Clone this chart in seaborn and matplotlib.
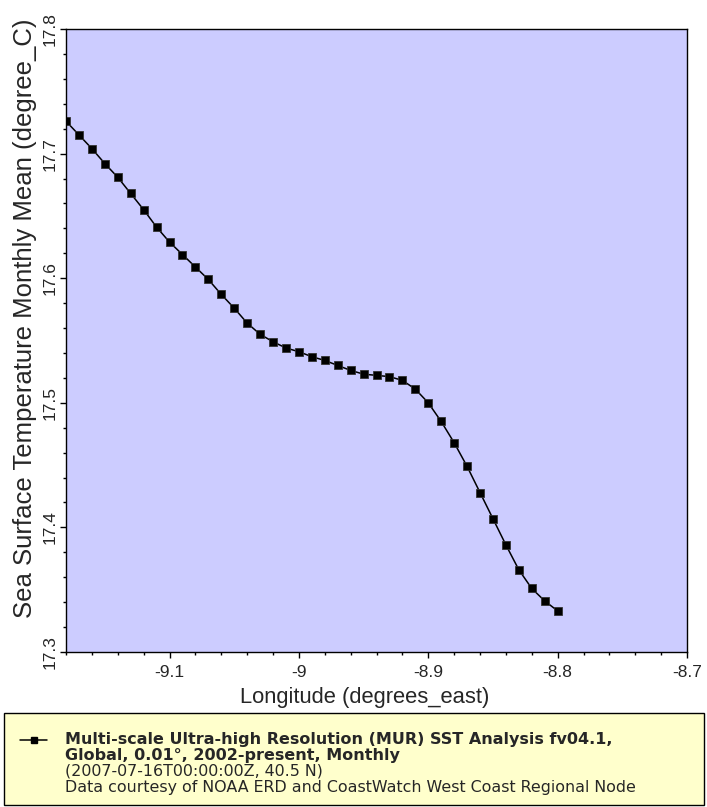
import matplotlib
matplotlib.use("Agg")
import matplotlib.pyplot as plt
import seaborn as sns
import pandas as pd
from matplotlib.lines import Line2D
from matplotlib.patches import Rectangle
from matplotlib.ticker import MultipleLocator

longitude = [-9.18, -9.17, -9.16, -9.15, -9.14, -9.13, -9.12, -9.11, -9.10, -9.09,
             -9.08, -9.07, -9.06, -9.05, -9.04, -9.03, -9.02, -9.01, -9.00, -8.99,
             -8.98, -8.97, -8.96, -8.95, -8.94, -8.93, -8.92, -8.91, -8.90, -8.89,
             -8.88, -8.87, -8.86, -8.85, -8.84, -8.83, -8.82, -8.81, -8.80]
sst = [17.726, 17.715, 17.704, 17.692, 17.681, 17.668, 17.655, 17.641, 17.629, 17.619,
       17.609, 17.599, 17.587, 17.576, 17.564, 17.555, 17.549, 17.544, 17.541, 17.537,
       17.534, 17.530, 17.526, 17.523, 17.522, 17.521, 17.518, 17.511, 17.500, 17.485,
       17.468, 17.449, 17.428, 17.407, 17.386, 17.366, 17.351, 17.341, 17.333]

xticks = [-9.1, -9.0, -8.9, -8.8, -8.7]
xticklabels = ["-9.1", "-9", "-8.9", "-8.8", "-8.7"]
yticks = [17.3, 17.4, 17.5, 17.6, 17.7, 17.8]
yticklabels = ["17.3", "17.4", "17.5", "17.6", "17.7", "17.8"]

xlabel = "Longitude (degrees_east)"
ylabel = "Sea Surface Temperature Monthly Mean (degree_C)"
legend_title = ["Multi-scale Ultra-high Resolution (MUR) SST Analysis fv04.1,",
                "Global, 0.01°, 2002-present, Monthly"]
legend_lines = ["(2007-07-16T00:00:00Z, 40.5 N)",
                "Data courtesy of NOAA ERD and CoastWatch West Coast Regional Node"]

sns.set_style("ticks")
plt.rcParams['font.family'] = ['Liberation Sans', 'DejaVu Sans']

W, H = 707, 807
fig = plt.figure(figsize=(W / 100, H / 100), dpi=100)
ax = fig.add_axes([66 / W, 1 - 652 / H, 621 / W, 623 / H])
ax.set_facecolor("#CCCCFF")

df = pd.DataFrame({"lon": longitude, "sst": sst})
sns.lineplot(data=df, x="lon", y="sst", ax=ax, color="black", linewidth=1.1,
             marker="s", markersize=5.6, markeredgecolor="#333333",
             markeredgewidth=0.6, markerfacecolor="black")

ax.set_xlim(-9.18, -8.7)
ax.set_ylim(17.3, 17.8)
ax.set_xticks(xticks)
ax.set_xticklabels(xticklabels, fontsize=12.5)
ax.set_yticks(yticks)
ax.set_yticklabels(yticklabels, fontsize=12.5, rotation=90, va="center")
ax.xaxis.set_minor_locator(MultipleLocator(0.02))
ax.yaxis.set_minor_locator(MultipleLocator(0.02))
ax.tick_params(which="major", direction="out", length=4.3, width=1, color="black")
ax.tick_params(which="minor", direction="out", length=2.2, width=1, color="black")
ax.tick_params(axis="x", which="major", pad=5)
ax.tick_params(axis="y", which="major", pad=2)
for s in ax.spines.values():
    s.set_visible(True)
    s.set_color("black")
    s.set_linewidth(1)

ax.set_xlabel("")
ax.set_ylabel("")
fig.text(365 / W, 1 - 703 / H, xlabel, fontsize=15.8, ha="center", va="baseline")
fig.text(25 / W, 1 - 318 / H, ylabel, fontsize=18.5, ha="center", va="center",
         rotation=90)

# legend box
fig.patches.append(Rectangle((4 / W, 1 - 805 / H), 700 / W, 92 / H,
                             transform=fig.transFigure, facecolor="#FFFFCC",
                             edgecolor="black", linewidth=1, zorder=0))
fig.lines.append(Line2D([20 / W, 47 / W], [1 - 740 / H, 1 - 740 / H],
                        transform=fig.transFigure, color="black", linewidth=1.1))
fig.lines.append(Line2D([33.5 / W], [1 - 740 / H], transform=fig.transFigure,
                        color="black", marker="s", markersize=4.6, linestyle="none"))
baselines = [744, 760, 776, 792]
for i, t in enumerate(legend_title):
    fig.text(65 / W, 1 - baselines[i] / H, t, fontsize=11.5, fontweight="bold",
             family="DejaVu Sans", va="baseline", ha="left")
for i, t in enumerate(legend_lines):
    fig.text(65 / W, 1 - baselines[i + 2] / H, t, fontsize=11.4,
             family="DejaVu Sans", va="baseline", ha="left")

fig.savefig("out.png", dpi=100)
